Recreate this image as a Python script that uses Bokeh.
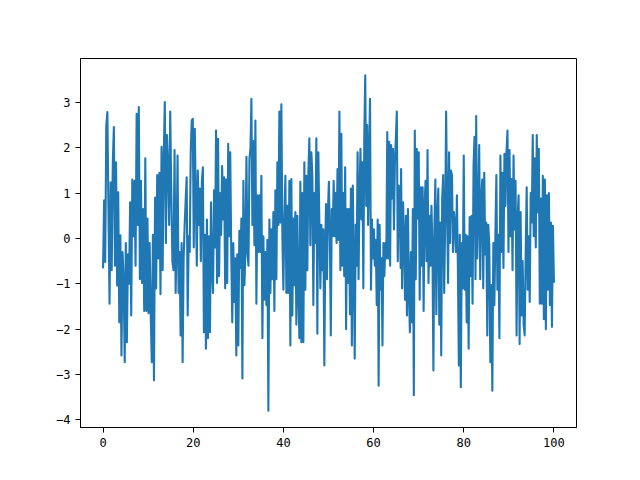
import numpy as np
from bokeh.plotting import figure
from bokeh.models import Range1d, FixedTicker
from bokeh.embed import file_html
from bokeh.resources import INLINE

# values (noise series over 0..100), in six stretches
seg_1 = [
    -0.66, 0.84, -0.52, 2.49, 2.79, 0.58, -1.44, 1.24, -0.7, 1.68, 2.46, -0.6, 1.68, -1.04,
    1.02, -1.85, 0.07, -2.58, -0.3, -0.9, -2.73, -0.1, -2.29, -0.35, -1.0, 0.8, -1.7, 1.3,
    0.05, 1.27, -0.6, 2.75, 0.3, 2.9, -0.9, 1.27, -0.98, 0.65, -1.6, 1.77, -1.6, 0.44,
    -1.65, -0.1, -1.67, -2.73, 0.08, -3.13, 0.9, -1.1, 1.4, -0.44, 1.45, -1.23, 2.02, -0.7,
    1.77, 3.01, -0.1, 2.28, 1.6, 0.3, 2.8, 1.0, -0.5, -0.7, 1.95, -1.2,
]
seg_2 = [
    -0.2, 1.83, -1.2, -0.3, -2.14, -0.1, -2.73, -0.44, 0.29, 0.84, 1.35, -1.7, 0.05, -0.3,
    1.9, 2.6, 2.64, -0.2, 2.42, 0.88, -0.6, 1.5, 0.3, 1.1, -0.5, 1.27, 1.57, -2.07, 0.08,
    -2.43, 0.42, -2.2, 0.05, -2.07, 0.8, -0.7, -1.2, 1.06, -0.2, 2.38, -0.98, 2.2, -0.83,
    1.0, 0.08, 1.6, 0.42, 1.35, -1.1, 1.3, -0.98, 2.09, 0.05, 1.9, -0.3, -1.85, -0.1, -1.4,
    -0.44, -2.58, -0.35, -2.36, 0.17, -0.65, 0.44, -3.09, 1.27, -1.03, -0.3, 1.8, -0.3,
    -0.6, 1.77, 1.98,
]
seg_3 = [
    3.08, 0.3, 2.15, -0.15, 2.6, -1.44, 0.95, -0.3, 0.95, -0.3, 1.38, -2.2, 0.05, -1.35,
    -0.3, -1.47, -0.03, -3.8, 0.42, -1.2, 0.2, -0.9, 0.58, -1.6, 1.06, -0.9, 1.68, 0.3, 2.8,
    0.35, 2.96, 0.05, -1.13, 0.44, 1.38, -1.2, 0.72, -1.2, 1.27, -2.36, 1.31, -1.7, 0.44,
    -1.03, 0.58, -1.9, 0.5, -1.13, -2.2, 1.25, -2.29, 1.0, -2.29, 1.68, -1.13, 1.38, -0.7,
    1.45, 2.21, -0.15, 1.9, 1.38, -1.47, 1.0, -0.1, 2.21, -2.1, 1.9, 0.35, -1.1, 0.3, -0.7,
    0.2, -2.8, -0.1,
]
seg_4 = [
    0.76, -0.9, 0.58, 1.25, 0.05, -2.14, 0.65, 0.05, 1.27, 0.05, 1.0, -0.1, 1.53, -0.03,
    2.8, -0.7, 2.31, -0.6, 1.0, -0.83, 1.57, -2.0, 0.65, -0.98, 0.65, -1.67, 1.1, -2.36,
    1.17, -0.6, -2.65, 0.3, -0.6, 1.9, -0.9, 0.95, 1.98, 0.42, 1.68, -1.1, 2.24, 3.6, 0.72,
    2.5, 0.3, 1.83, 3.08, -1.13, 0.42, -0.44, 0.2, -0.6, -0.03, -1.47, 0.42, -3.25, 0.3,
    -1.13, -0.44, -2.36, -0.1, -0.83, -0.1, -0.44, 2.35, -0.44, 2.13, -0.6, 2.06, 0.88,
    1.98, 0.2, 1.68, 2.21, 2.8, -0.5, 1.17, 0.8, -0.65,
]
seg_5 = [
    1.53, -1.1, 0.8, 0.05, -1.35, 0.5, -1.7, 0.65, -1.2, -2.07, -0.3, -1.85, 0.65, -3.46,
    2.38, -0.9, 1.98, 0.44, 1.9, -1.35, 1.13, -0.6, 1.13, -1.6, 0.72, 1.27, -0.5, 1.95,
    -0.98, 0.5, -0.6, 0.72, -0.2, -2.91, 0.2, 1.3, -1.67, 0.5, 1.1, -1.9, 0.35, -2.58, 0.88,
    1.4, -1.2, 0.3, 2.8, 0.65, -0.98, 1.9, -0.1, 1.5, 1.38, -0.3, 0.58, 0.3, -0.3, 0.95,
    -0.6, -2.8, 0.08, -3.28, -0.1, -1.1, 1.83, -1.13, 0.08, -1.85, 0.05, -2.43, 0.47, -0.83,
    0.5, -1.44, 1.6, 2.24, -0.9,
]
seg_6 = [
    2.7, -0.44, 0.5, 2.06, -0.9, 0.88, 1.3, -1.1, 1.45, -0.35, 0.35, -2.14, 0.3, -0.15,
    -2.73, -1.03, -3.36, -0.1, -1.47, 0.05, 1.4, -1.13, 0.08, -2.2, 1.83, -0.3, 1.45, -0.65,
    1.87, 0.72, 1.9, 2.38, -0.3, 1.95, 0.05, 1.31, -0.7, 1.83, 0.2, 1.27, -2.14, 0.44, 0.95,
    -2.33, 0.58, -1.7, -0.5, -1.9, -2.14, -0.35, 1.13, -1.13, 0.05, -1.4, 1.0, 0.35, 2.28,
    0.05, 1.77, -0.2, 2.28, 0.58, 1.98, -1.44, 0.88, -1.44, 1.38, -1.78, 1.3, -2.0, 0.95,
    -1.13, 1.0, -1.47, 0.35, -1.95, 0.28, -0.98,
]
segments = [seg_1, seg_2, seg_3, seg_4, seg_5, seg_6]
# x span covered by each stretch
seg_spans = [(0.0, 16.1), (16.3, 32.7), (32.9, 49.3), (49.45, 66.0), (66.1, 82.6), (82.75, 100.0)]

x_start = 0
x_end = 100
x_ticks = [0, 20, 40, 60, 80, 100]
y_ticks = [-4, -3, -2, -1, 0, 1, 2, 3]

x_values = np.concatenate([np.linspace(a, b, len(s)) for s, (a, b) in zip(segments, seg_spans)])
y_values = np.concatenate([np.array(s) for s in segments])

ymin, ymax = float(y_values.min()), float(y_values.max())
yr = ymax - ymin
xr = x_end - x_start

p = figure(
    output_backend="svg", toolbar_location=None,
    width=624, height=464,
    frame_width=496, frame_height=369,
    min_border_left=80, min_border_right=48, min_border_top=58, min_border_bottom=37,
    x_range=Range1d(x_start - 0.05 * xr, x_end + 0.05 * xr),
    y_range=Range1d(ymin - 0.05 * yr, ymax + 0.05 * yr),
    background_fill_color="white", border_fill_color="white",
)
p.line(x_values, y_values, line_color="#1f77b4", line_width=2.1, line_join="round")

p.xgrid.visible = False
p.ygrid.visible = False
p.outline_line_color = "black"
p.outline_line_width = 1
p.outline_line_alpha = 1

p.xaxis.ticker = FixedTicker(ticks=x_ticks)
p.yaxis.ticker = FixedTicker(ticks=y_ticks)
for ax in (p.xaxis, p.yaxis):
    ax.axis_line_color = "black"
    ax.major_tick_line_color = "black"
    ax.major_tick_out = 5
    ax.major_tick_in = 0
    ax.minor_tick_line_color = None
    ax.major_label_text_font = "DejaVu Sans Mono"
    ax.major_label_text_font_size = "12px"
    ax.major_label_text_color = "black"
    ax.major_label_standoff = 5

open("out.html", "w").write(file_html(p, INLINE))
